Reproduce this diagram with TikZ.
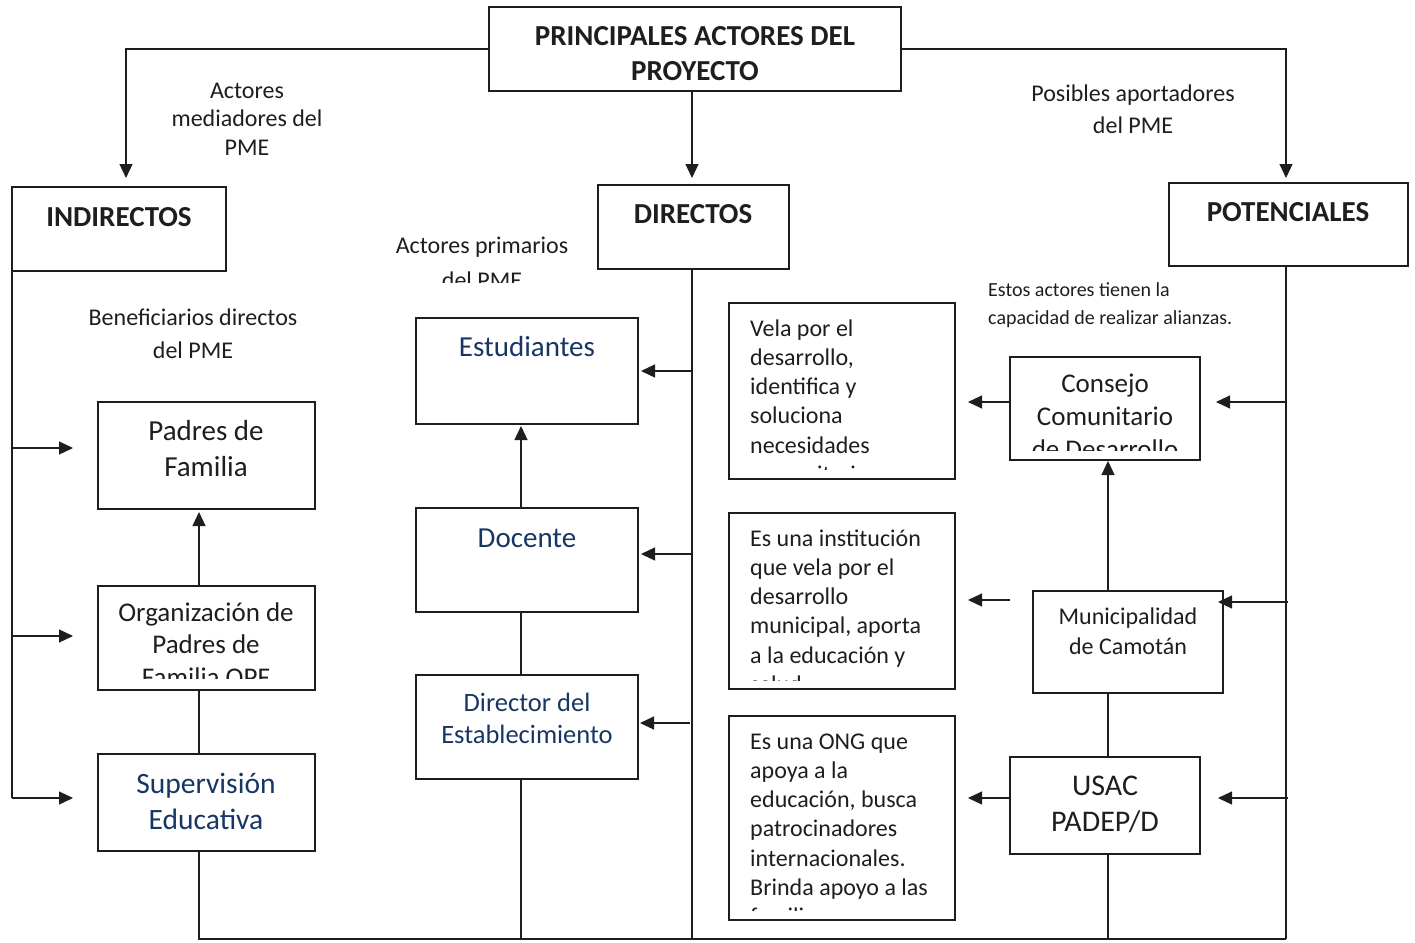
\documentclass[tikz,border=0pt]{standalone}
\usepackage{fontspec}
\setmainfont{Carlito}
\usetikzlibrary{arrows.meta}
\definecolor{navy}{RGB}{23,54,100}
\definecolor{ink}{RGB}{30,30,30}
\newcommand\setfs[2]{\fontsize{#1}{#2}\selectfont}
\begin{document}
\begin{tikzpicture}[x=1pt,y=-1pt,
  box/.style={draw=ink, line width=1.2pt, inner sep=0pt, outer sep=0pt},
  ln/.style={draw=ink, line width=1.2pt},
  arr/.style={draw=ink, line width=1.2pt, -{Triangle[length=14pt,width=13pt]}},
  lbl/.style={inner sep=0pt, anchor=base, align=center, text=ink},
  lbll/.style={inner sep=0pt, anchor=base west, align=left, text=ink},
  ]
\useasboundingbox (0,0) rectangle (1415,942);
% boxes
\node[box, minimum width=412pt, minimum height=84pt] (title) at (695,49) {};
\node[box, minimum width=214pt, minimum height=84pt] (ind) at (119,229) {};
\node[box, minimum width=191pt, minimum height=84pt] (dir) at (693.5,227) {};
\node[box, minimum width=239pt, minimum height=83pt] (pot) at (1288.5,224.5) {};
\node[box, minimum width=217pt, minimum height=107pt] (padres) at (206.5,455.5) {};
\node[box, minimum width=217pt, minimum height=104pt] (opf) at (206.5,638) {};
\node[box, minimum width=217pt, minimum height=97pt] (sup) at (206.5,802.5) {};
\node[box, minimum width=222pt, minimum height=106pt] (est) at (527,371) {};
\node[box, minimum width=222pt, minimum height=104pt] (doc) at (527,560) {};
\node[box, minimum width=222pt, minimum height=104pt] (dirc) at (527,727) {};
\node[box, minimum width=226pt, minimum height=176pt] (vela) at (842,391) {};
\node[box, minimum width=190pt, minimum height=103pt] (cons) at (1105,408.5) {};
\node[box, minimum width=226pt, minimum height=176pt] (mund) at (842,601) {};
\node[box, minimum width=190pt, minimum height=102pt] (mun) at (1128,642) {};
\node[box, minimum width=226pt, minimum height=204pt] (ongd) at (842,818) {};
\node[box, minimum width=190pt, minimum height=97pt] (usac) at (1105,805.5) {};
% texts (anchor base = baseline of the last line)
\node[lbl, font=\setfs{29}{35}\bfseries] (titlet) at (695,80.3) {PRINCIPALES ACTORES DEL\\PROYECTO};
\node[lbl, font=\setfs{29}{35}\bfseries] (indt) at (119,226.3) {INDIRECTOS};
\node[lbl, font=\setfs{29}{35}\bfseries] (dirt) at (693,223.3) {DIRECTOS};
\node[lbl, font=\setfs{29}{35}\bfseries] (pott) at (1288,221.3) {POTENCIALES};
\node[lbl, font=\setfs{24}{28.5}] (medt) at (247,155) {Actores\\mediadores del\\PME};
\node[lbl, font=\setfs{24}{32}] (post) at (1133,133) {Posibles aportadores\\del PME};
\begin{scope}
\clip (380,225) rectangle (590,282);
\node[lbl, font=\setfs{24}{35}] (primt) at (482,288) {Actores primarios\\del PME};
\end{scope}
\node[lbl, font=\setfs{24}{33}] (bent) at (193,358) {Beneficiarios directos\\del PME};
\node[lbll, font=\setfs{20}{28}] (estost) at (988,324) {Estos actores tienen la\\capacidad de realizar alianzas.};
\node[lbl, font=\setfs{29}{36}] (padrest) at (206,476) {Padres de\\Familia};
\begin{scope}
\clip (100,590) rectangle (313,678);
\node[lbl, font=\setfs{27}{32.5}] (opft) at (206,686) {Organización de\\Padres de\\Familia OPF};
\end{scope}
\node[lbl, font=\setfs{29.5}{36}, text=navy] (supt) at (206,829) {Supervisión\\Educativa};
\node[lbl, font=\setfs{29}{36}, text=navy] (estt) at (527,356) {Estudiantes};
\node[lbl, font=\setfs{29}{36}, text=navy] (doct) at (527,547) {Docente};
\node[lbl, font=\setfs{26.5}{32}, text=navy] (dirct) at (527,743) {Director del\\Establecimiento};
\begin{scope}
\clip (731,305) rectangle (953,469);
\node[lbll, font=\setfs{24}{29.3}] (velat) at (750,482.5) {Vela por el\\desarrollo,\\identifica y\\soluciona\\necesidades\\comunitarias.};
\end{scope}
\begin{scope}
\clip (1012,359) rectangle (1198,450);
\node[lbl, font=\setfs{27}{33}] (const) at (1105,458) {Consejo\\Comunitario\\de Desarrollo};
\end{scope}
\begin{scope}
\clip (731,515) rectangle (953,680);
\node[lbll, font=\setfs{24}{29.3}] (mundt) at (750,692.5) {Es una institución\\que vela por el\\desarrollo\\municipal, aporta\\a la educación y\\salud.};
\end{scope}
\node[lbl, font=\setfs{24}{30}] (munt) at (1128,654) {Municipalidad\\de Camotán};
\begin{scope}
\clip (731,718) rectangle (953,910);
\node[lbll, font=\setfs{24}{29.3}] (ongdt) at (750,924.8) {Es una ONG que\\apoya a la\\educación, busca\\patrocinadores\\internacionales.\\Brinda apoyo a las\\familias.};
\end{scope}
\node[lbl, font=\setfs{30}{36}] (usact) at (1105,831) {USAC\\PADEP/D};
% coordinates
\coordinate (lt1) at (12,448);
\coordinate (lt2) at (12,636);
\coordinate (lt3) at (12,798);
\coordinate (mt1) at (692,371);
\coordinate (mt2) at (692,554);
\coordinate (mt3) at (690,723);
\coordinate (rt1) at (1286,402);
\coordinate (rt2) at (1288,602);
\coordinate (rt3) at (1288,798);
\coordinate (bl) at (199,939);
\coordinate (br) at (1286,939);
% top connectors
\draw[arr, shorten >=9pt] (title.west) -| ([xshift=7pt]ind.north);
\draw[arr, shorten >=7pt] ([xshift=-3pt]title.south) -- ([xshift=-3pt]title.south |- dir.north);
\draw[arr, shorten >=5pt] (title.east) -| ([xshift=-2.5pt]pot.north);
% left column
\draw[ln] (ind.south west) -- (lt3);
\draw[arr, shorten >=25pt] (lt1) -- (lt1 -| padres.west);
\draw[arr, shorten >=25pt] (lt2) -- (lt2 -| opf.west);
\draw[arr, shorten >=25pt] (lt3) -- (lt3 -| sup.west);
\draw[arr, shorten >=3pt] ([xshift=-7.5pt]opf.north) -- ([xshift=-7.5pt]padres.south);
\draw[ln] ([xshift=-7.5pt]opf.south) -- ([xshift=-7.5pt]sup.north);
\draw[ln] ([xshift=-7.5pt]sup.south) -- (bl) -- (br);
% middle column
\draw[ln] ([xshift=-1.5pt]dir.south) -- ([xshift=-1.5pt]dir.south |- bl);
\draw[arr, shorten >=3pt] (mt1) -- (mt1 -| est.east);
\draw[arr, shorten >=3pt] (mt2) -- (mt2 -| doc.east);
\draw[arr, shorten >=2pt] (mt3) -- (mt3 -| dirc.east);
\draw[arr, shorten >=2pt] ([xshift=-6pt]doc.north) -- ([xshift=-6pt]est.south);
\draw[ln] ([xshift=-6pt]doc.south) -- ([xshift=-6pt]dirc.north);
\draw[ln] ([xshift=-6pt]dirc.south) -- ([xshift=-6pt]dirc.south |- bl);
% right column
\draw[ln] ([xshift=-2.5pt]pot.south) -- (br);
\draw[arr, shorten >=16pt] (rt1) -- (rt1 -| cons.east);
\draw[arr, shorten >=-5pt] (rt2) -- (rt2 -| mun.east);
\draw[arr, shorten >=18pt] (rt3) -- (rt3 -| usac.east);
\draw[arr, shorten >=13pt] (cons.west |- rt1) -- (rt1 -| vela.east);
\draw[arr, shorten <=23pt, shorten >=13pt] ([yshift=42pt]mun.west) -- ([yshift=42pt]mun.west -| mund.east);
\draw[arr, shorten >=13pt] (usac.west |- rt3) -- (rt3 -| ongd.east);
\draw[arr, shorten >=1pt] ([xshift=-20pt]mun.north) -- ([xshift=-20pt]mun.north |- cons.south);
\draw[ln] ([xshift=-20pt]mun.south) -- ([xshift=-20pt]mun.south |- usac.north);
\draw[ln] ([xshift=3pt]usac.south) -- ([xshift=3pt]usac.south |- bl);
\end{tikzpicture}
\end{document}
